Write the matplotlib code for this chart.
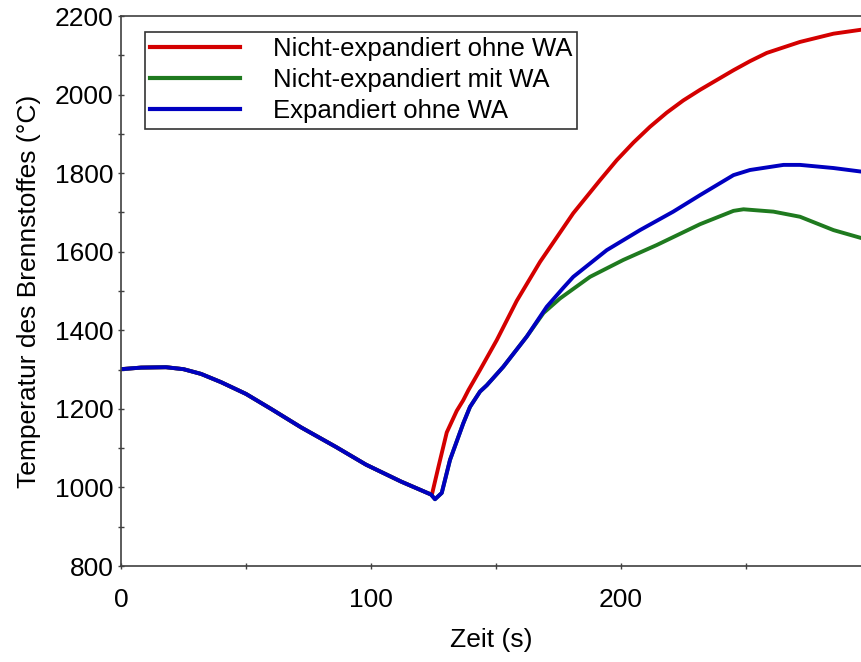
import numpy as np
import matplotlib
matplotlib.use("Agg")
import matplotlib.pyplot as plt
from matplotlib.ticker import MultipleLocator

plt.rcParams['font.family'] = ['Liberation Sans', 'DejaVu Sans']

# Shared cooldown phase (all three cases coincide)
t_common = [0, 8, 18, 25, 32, 40, 50, 60, 72, 86, 98, 112, 124]
T_common = [1301, 1305, 1306, 1301, 1289, 1268, 1238, 1200, 1153, 1103, 1058, 1015, 982]

# Nicht-expandiert ohne WA
t_red = [124.3, 127, 130.3, 134.3, 136.9, 139, 143.6, 150.3, 158.3, 167.6, 180.9,
         191.6, 198.3, 205, 211.6, 218.3, 224.9, 231.6, 238.3, 245, 251.6, 258.3,
         271.6, 285, 296]
T_red = [980, 1053, 1140, 1195, 1222, 1248, 1299, 1375, 1475, 1574, 1698,
         1782, 1833, 1878, 1918, 1954, 1985, 2012, 2037, 2062, 2085, 2106,
         2134, 2155, 2165]

# Expandiert ohne WA
t_blue = [125.6, 128.3, 131.6, 136.9, 139.6, 143.6, 146.3, 152.9, 162.3, 170.3,
          176.9, 180.9, 194.3, 207.6, 220.9, 231.6, 245, 251.6, 265, 271.6, 285, 296]
T_blue = [970, 986, 1070, 1163, 1205, 1244, 1260, 1307, 1384, 1460,
          1508, 1536, 1604, 1655, 1702, 1744, 1795, 1808, 1821, 1821, 1813, 1804]

# Nicht-expandiert mit WA
t_green = [125.6, 128.3, 131.6, 136.9, 139.6, 143.6, 146.3, 152.9, 162.3, 169,
           175.6, 187.6, 200.9, 214.3, 231.6, 245, 249, 261, 271.6, 285, 296]
T_green = [970, 986, 1070, 1163, 1205, 1244, 1260, 1307, 1384, 1444,
           1481, 1536, 1579, 1617, 1670, 1704, 1708, 1702, 1689, 1655, 1635]

labels = ["Nicht-expandiert ohne WA", "Nicht-expandiert mit WA", "Expandiert ohne WA"]
colors = ["#d40000", "#1f7a1f", "#0000c0"]

fig = plt.figure(figsize=(8.61, 6.62), dpi=100)
ax = fig.add_axes([121 / 861, 1 - 566 / 662, 740 / 861, 550 / 662])

series = [(t_red, T_red), (t_green, T_green), (t_blue, T_blue)]
for (t, T), lab, col in zip(series, labels, colors):
    tt = np.concatenate([t_common, t])
    TT = np.concatenate([T_common, T])
    ax.plot(tt, TT, color=col, lw=2.8, label=lab, solid_joinstyle='round')

ax.set_xlim(0, 296)
ax.set_ylim(800, 2200)
ax.xaxis.set_major_locator(MultipleLocator(100))
ax.xaxis.set_minor_locator(MultipleLocator(50))
ax.yaxis.set_major_locator(MultipleLocator(200))
ax.yaxis.set_minor_locator(MultipleLocator(100))

spine_col = "#404040"
for s in ["left", "bottom", "top"]:
    ax.spines[s].set_color(spine_col)
    ax.spines[s].set_linewidth(1.2)
ax.spines["right"].set_visible(False)

ax.tick_params(which="both", direction="inout", color=spine_col, width=1.0,
               labelsize=19, top=False, right=False)
ax.tick_params(which="major", length=5)
ax.tick_params(which="minor", length=4)
ax.tick_params(axis="x", which="major", pad=13)
ax.tick_params(axis="y", which="major", pad=3)

ax.set_xlabel("Zeit (s)", fontsize=19, labelpad=12)
ax.set_ylabel("Temperatur des Brennstoffes (°C)", fontsize=19, labelpad=10)

leg = ax.legend(loc="upper left", bbox_to_anchor=(0.032, 0.971), borderaxespad=0,
                fontsize=18.5, frameon=True, fancybox=False, handlelength=3.5,
                handletextpad=1.28, labelspacing=0.28, borderpad=0.2)
leg.get_frame().set_edgecolor("black")
leg.get_frame().set_linewidth(1.2)
for line in leg.get_lines():
    line.set_linewidth(3)

fig.savefig("out.png", dpi=100)
